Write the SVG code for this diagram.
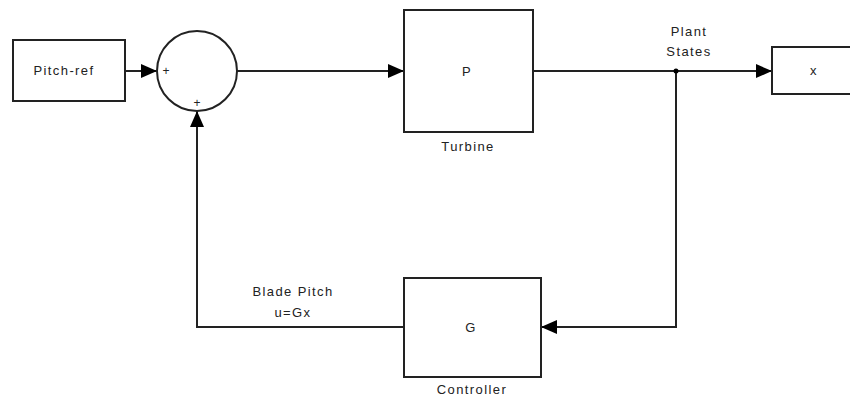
<svg xmlns="http://www.w3.org/2000/svg" width="850" height="398" viewBox="0 0 850 398">
<style>
.b{fill:#fff;stroke:#222;stroke-width:2}
.l{fill:none;stroke:#222;stroke-width:2}
text{font-family:"Liberation Sans",Arial,sans-serif;font-size:13px;fill:#222;text-anchor:middle;letter-spacing:1.4px}
.s{font-size:12px;letter-spacing:0}
</style>
<defs>
<marker id="ar" markerWidth="16" markerHeight="14" refX="16" refY="7" orient="auto" markerUnits="userSpaceOnUse">
<path d="M0,0 L16,7 L0,14 Z" fill="#000"/>
</marker>
</defs>
<rect width="850" height="398" fill="#fff"/>
<g id="connectors">
<line class="l" x1="125" y1="71" x2="157" y2="71" marker-end="url(#ar)"/>
<line class="l" x1="237" y1="71" x2="404" y2="71" marker-end="url(#ar)"/>
<line class="l" x1="533" y1="71" x2="772" y2="71" marker-end="url(#ar)"/>
<polyline class="l" points="676,71 676,327 541,327" marker-end="url(#ar)"/>
<polyline class="l" points="404,327 197,327 197,111" marker-end="url(#ar)"/>
<circle cx="676" cy="71" r="2.5" fill="#000"/>
<text x="689" y="36">Plant</text>
<text x="689" y="56">States</text>
<text x="293" y="296">Blade Pitch</text>
<text x="293" y="317">u=Gx</text>
</g>
<g id="pitch-ref">
<rect class="b" x="13" y="40" width="112" height="61"/>
<text x="64" y="75">Pitch-ref</text>
</g>
<g id="sum">
<circle class="b" cx="197" cy="71" r="40" stroke-width="1.5"/>
<text class="s" x="166" y="75">+</text>
<text class="s" x="197" y="107">+</text>
</g>
<g id="turbine">
<rect class="b" x="404" y="10" width="129" height="122"/>
<text x="467" y="76">P</text>
<text x="468" y="151">Turbine</text>
</g>
<g id="output">
<rect class="b" x="772" y="47" width="90" height="47"/>
<text x="814" y="75">x</text>
</g>
<g id="controller">
<rect class="b" x="404" y="278" width="137" height="99"/>
<text x="471" y="332">G</text>
<text x="472" y="394">Controller</text>
</g>
</svg>
